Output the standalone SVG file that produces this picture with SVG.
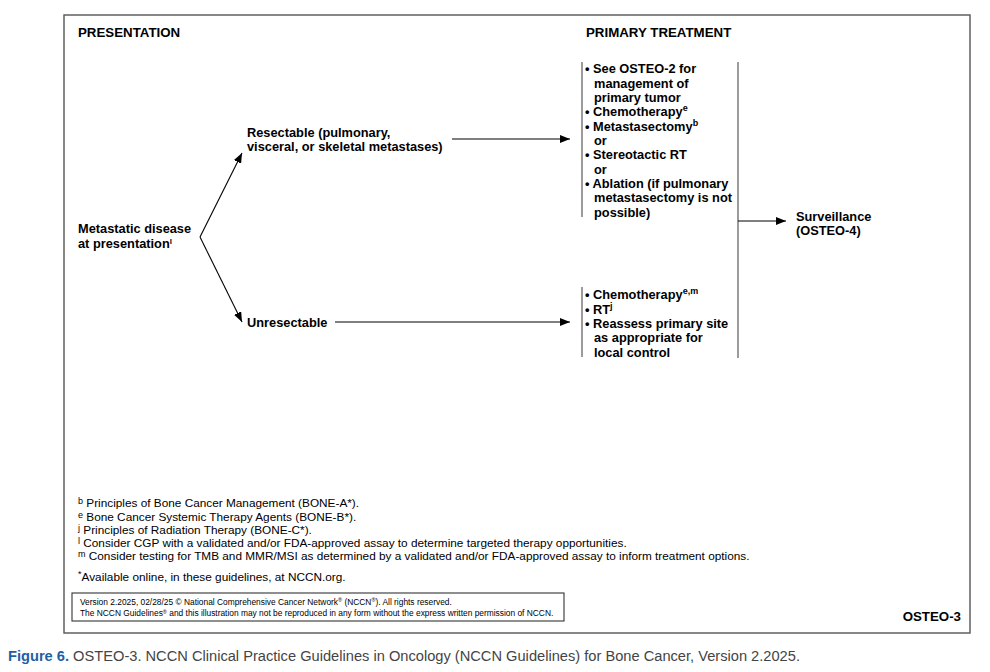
<svg xmlns="http://www.w3.org/2000/svg" width="990" height="672" viewBox="0 0 990 672">
<defs>
<style>
text{font-family:"Liberation Sans",Arial,sans-serif;fill:#000}
.h{font-size:13.3px;font-weight:bold}
.b{font-size:12.8px;font-weight:bold}
.f{font-size:11.8px}
.c{font-size:8.4px}
.sup{font-size:9px}
.fs{font-size:9px}
.ln{stroke:#000;stroke-width:1.1;fill:none}
.br{stroke:#666;stroke-width:1.3;fill:none}
</style>
<marker id="ah" viewBox="0 0 10 8" refX="10" refY="4" markerWidth="10" markerHeight="8" markerUnits="userSpaceOnUse" orient="auto">
<path d="M0,0 L10,4 L0,8 Z" fill="#000"/>
</marker>
</defs>
<rect width="990" height="672" fill="#fff"/>
<rect x="64" y="15" width="906" height="618" fill="none" stroke="#555" stroke-width="1.4"/>
<text class="h" x="78" y="37">PRESENTATION</text>
<text class="h" x="586" y="37">PRIMARY TREATMENT</text>

<g id="metastatic">
<text class="b" x="78" y="233">Metastatic disease</text>
<text class="b" x="78" y="247.5">at presentation<tspan font-size="8px" dy="-4">l</tspan></text>
</g>
<g id="resectable">
<text class="b" x="247" y="137">Resectable (pulmonary,</text>
<text class="b" x="247" y="151">visceral, or skeletal metastases)</text>
</g>
<g id="unresectable">
<text class="b" x="247" y="327">Unresectable</text>
</g>
<g id="treat-resectable">
<line class="br" x1="582" y1="62" x2="582" y2="217"/>
<text class="b" x="585" y="73">• See OSTEO-2 for</text>
<text class="b" x="594" y="87.5">management of</text>
<text class="b" x="594" y="102">primary tumor</text>
<text class="b" x="585" y="116">• Chemotherapy<tspan class="sup" dy="-5">e</tspan></text>
<text class="b" x="585" y="130.5">• Metastasectomy<tspan class="sup" dy="-5">b</tspan></text>
<text class="b" x="594" y="145">or</text>
<text class="b" x="585" y="159">• Stereotactic RT</text>
<text class="b" x="594" y="173.5">or</text>
<text class="b" x="585" y="188">• Ablation (if pulmonary</text>
<text class="b" x="594" y="202">metastasectomy is not</text>
<text class="b" x="594" y="216.5">possible)</text>
</g>
<g id="treat-unresectable">
<line class="br" x1="582" y1="287" x2="582" y2="357"/>
<text class="b" x="585" y="299">• Chemotherapy<tspan class="sup" dy="-5">e,m</tspan></text>
<text class="b" x="585" y="313.5">• RT<tspan class="sup" dy="-5">j</tspan></text>
<text class="b" x="585" y="328">• Reassess primary site</text>
<text class="b" x="594" y="342">as appropriate for</text>
<text class="b" x="594" y="356.5">local control</text>
</g>
<g id="merge">
<line class="br" x1="738" y1="62" x2="738" y2="358"/>
</g>
<g id="surveillance">
<text class="b" x="796" y="221">Surveillance</text>
<text class="b" x="796" y="235">(OSTEO-4)</text>
</g>

<g id="connectors">
<path class="ln" d="M200,237 L242,153" marker-end="url(#ah)"/>
<path class="ln" d="M200,237 L242,322" marker-end="url(#ah)"/>
<line class="ln" x1="452" y1="139" x2="570" y2="139" marker-end="url(#ah)"/>
<line class="ln" x1="335" y1="322" x2="570" y2="322" marker-end="url(#ah)"/>
<line class="ln" x1="738" y1="221" x2="786" y2="221" marker-end="url(#ah)"/>
</g>

<g id="footnotes">
<text class="f" x="78" y="507"><tspan class="fs" dy="-3">b</tspan><tspan dy="3"> Principles of Bone Cancer Management (BONE-A*).</tspan></text>
<text class="f" x="78" y="520.5"><tspan class="fs" dy="-3">e</tspan><tspan dy="3"> Bone Cancer Systemic Therapy Agents (BONE-B*).</tspan></text>
<text class="f" x="78" y="534"><tspan class="fs" dy="-3">j</tspan><tspan dy="3"> Principles of Radiation Therapy (BONE-C*).</tspan></text>
<text class="f" x="78" y="547"><tspan class="fs" dy="-3">l</tspan><tspan dy="3"> Consider CGP with a validated and/or FDA-approved assay to determine targeted therapy opportunities.</tspan></text>
<text class="f" x="78" y="560"><tspan class="fs" dy="-3">m</tspan><tspan dy="3"> Consider testing for TMB and MMR/MSI as determined by a validated and/or FDA-approved assay to inform treatment options.</tspan></text>
<text class="f" x="78" y="581"><tspan class="fs" dy="-4">*</tspan><tspan dy="4">Available online, in these guidelines, at NCCN.org.</tspan></text>
</g>
<g id="copyright">
<rect x="72" y="593" width="492" height="28" fill="none" stroke="#333" stroke-width="1.1"/>
<text class="c" x="80" y="604.5">Version 2.2025, 02/28/25 © National Comprehensive Cancer Network<tspan font-size="5.5" dy="-2.5">®</tspan><tspan dy="2.5"> (NCCN</tspan><tspan font-size="5.5" dy="-2.5">®</tspan><tspan dy="2.5">). All rights reserved.</tspan></text>
<text class="c" x="80" y="616">The NCCN Guidelines<tspan font-size="5.5" dy="-2.5">®</tspan><tspan dy="2.5"> and this illustration may not be reproduced in any form without the express written permission of NCCN.</tspan></text>
</g>
<text class="h" x="961" y="621" text-anchor="end">OSTEO-3</text>
<text x="8" y="661" font-size="14" style="fill:#444" textLength="792" lengthAdjust="spacingAndGlyphs"><tspan style="fill:#1f5fa6;font-weight:bold">Figure 6.</tspan> OSTEO-3. NCCN Clinical Practice Guidelines in Oncology (NCCN Guidelines) for Bone Cancer, Version 2.2025.</text>
</svg>
